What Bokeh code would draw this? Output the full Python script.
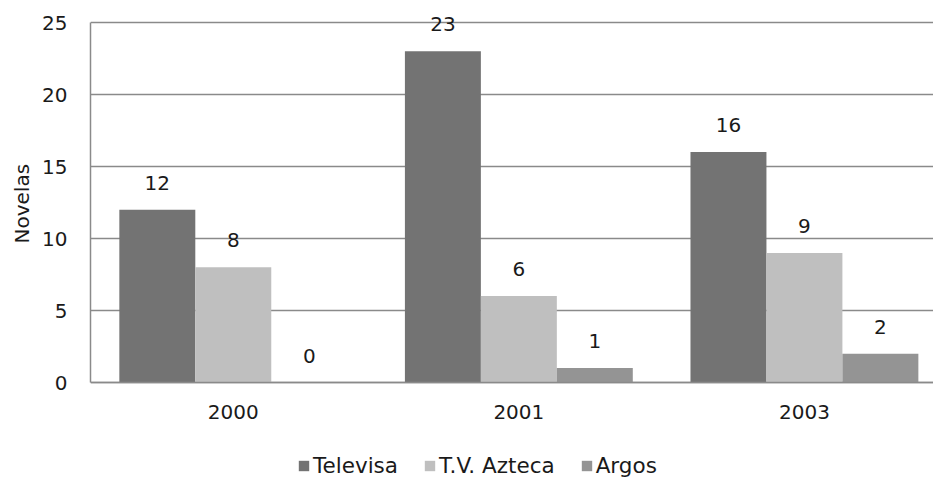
from bokeh.plotting import figure
from bokeh.models import ColumnDataSource, Range1d, Legend, LegendItem, FixedTicker, Title
from bokeh.transform import dodge
from bokeh.core.properties import value
from bokeh.embed import file_html
from bokeh.resources import INLINE

years = ["2000", "2001", "2003"]
televisa = [12, 23, 16]
azteca = [8, 6, 9]
argos = [0, 1, 2]
series_names = ["Televisa", "T.V. Azteca", "Argos"]
y_ticks = [0, 5, 10, 15, 20, 25]
y_title = "Novelas"

colors = ["#737373", "#bfbfbf", "#949494"]
FONT = "DejaVu Sans"
TXT = "#1a1a1a"
GRID = "#8a8a8a"

xs = list(range(len(years)))
src = ColumnDataSource(dict(x=xs, televisa=televisa, azteca=azteca, argos=argos,
                            l_tv=[str(v) for v in televisa],
                            l_az=[str(v) for v in azteca],
                            l_ar=[str(v) for v in argos]))

p = figure(width=933, height=483, output_backend="svg", toolbar_location=None,
           x_range=Range1d(-0.5, 2.452), y_range=Range1d(-7.014, 26.53),
           min_border_left=90, min_border_right=0, min_border_top=0, min_border_bottom=0)
p.outline_line_color = None
p.background_fill_color = "white"
p.border_fill_color = "white"

w = 0.266
fields = ["televisa", "azteca", "argos"]
lbls = ["l_tv", "l_az", "l_ar"]
offs = [-w, 0, w]
rends = []
for f, lf, off, c in zip(fields, lbls, offs, colors):
    r = p.vbar(x=dodge("x", off, range=p.x_range), top=f, width=w, bottom=0,
               source=src, fill_color=c, line_color=None)
    rends.append(r)
    p.text(x=dodge("x", off, range=p.x_range), y=f, text=lf, source=src,
           text_align="center", text_baseline="middle", y_offset=-27,
           text_font=value(FONT), text_font_size="20px", text_color=TXT)

# axes
p.xaxis.ticker = FixedTicker(ticks=xs)
p.xaxis.major_label_overrides = {i: y for i, y in enumerate(years)}
p.xaxis.fixed_location = 0
p.yaxis.ticker = FixedTicker(ticks=y_ticks)
p.yaxis.bounds = (0, 25)
for ax in (p.xaxis[0], p.yaxis[0]):
    ax.major_tick_line_color = None
    ax.minor_tick_line_color = None
    ax.major_tick_out = 0
    ax.major_tick_in = 0
    ax.minor_tick_out = 0
    ax.minor_tick_in = 0
    ax.axis_line_color = GRID
    ax.axis_line_width = 1.5
    ax.major_label_text_font = FONT
    ax.major_label_text_font_size = "20px"
    ax.major_label_text_color = TXT
p.xaxis.major_label_standoff = 22
p.yaxis.major_label_standoff = 23

# y axis title, placed as a side title so it can be centred on the 0-25 span
t = Title(text=y_title, align="left", offset=240, standoff=12,
          text_font=FONT, text_font_size="20px", text_font_style="normal",
          text_color=TXT)
p.add_layout(t, "left")

p.xgrid.grid_line_color = None
p.ygrid.grid_line_color = GRID
p.ygrid.grid_line_width = 1.5

legend = Legend(items=[LegendItem(label=n, renderers=[r]) for n, r in zip(series_names, rends)],
                orientation="horizontal", location=(207, 5))
legend.glyph_width = 13
legend.glyph_height = 13
legend.label_standoff = 3
legend.spacing = 25
legend.padding = 0
legend.margin = 0
legend.border_line_color = None
legend.background_fill_alpha = 0
legend.label_text_font = FONT
legend.label_text_font_size = "21.5px"
legend.label_text_color = TXT
p.add_layout(legend, "center")

open("out.html", "w").write(file_html(p, INLINE))
